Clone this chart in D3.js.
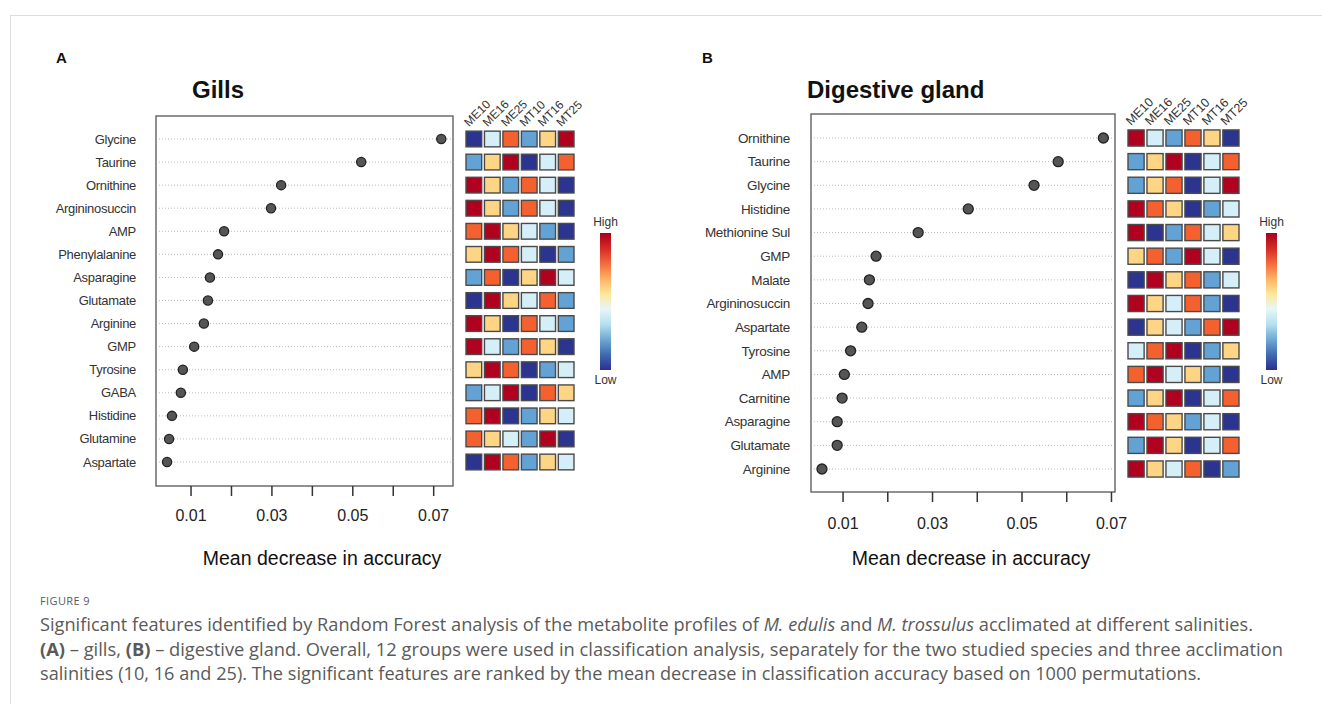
<!DOCTYPE html>
<html>
<head>
<meta charset="utf-8">
<script src="https://cdn.jsdelivr.net/npm/d3@7"></script>
<style>
  body { margin: 0; background: #fff; }
  svg { display: block; }
  .lbl { font-family: "Liberation Sans", Arial, sans-serif; fill: #333; }
</style>
</head>
<body>
<script>
// groups of the heatmap columns
const groups = ["ME10", "ME16", "ME25", "MT10", "MT16", "MT25"];
const xTicks = [0.01, 0.02, 0.03, 0.04, 0.05, 0.06, 0.07];
const xTickLabels = ["0.01", "", "0.03", "", "0.05", "", "0.07"];

// panel A - gills
const gillsFeatures = ["Glycine", "Taurine", "Ornithine", "Argininosuccin", "AMP", "Phenylalanine",
  "Asparagine", "Glutamate", "Arginine", "GMP", "Tyrosine", "GABA", "Histidine", "Glutamine", "Aspartate"];
const gillsMDA = [0.0720, 0.0522, 0.0324, 0.0299, 0.0183, 0.0168, 0.0148, 0.0143, 0.0133,
  0.0109, 0.0081, 0.0076, 0.0054, 0.0047, 0.0042];
// relative level 1 (low) .. 6 (high) for each group
const gillsHeat = [
  [1, 3, 5, 2, 4, 6], [2, 4, 6, 1, 3, 5], [6, 4, 2, 5, 3, 1], [6, 4, 2, 5, 3, 1],
  [5, 6, 4, 3, 2, 1], [4, 6, 5, 3, 1, 2], [2, 5, 1, 4, 6, 3], [1, 6, 4, 3, 5, 2],
  [6, 4, 1, 5, 3, 2], [6, 3, 2, 5, 4, 1], [4, 6, 5, 1, 2, 3], [2, 3, 6, 1, 5, 4],
  [5, 6, 1, 2, 4, 3], [5, 4, 3, 2, 6, 1], [1, 6, 5, 2, 4, 3]
];

// panel B - digestive gland
const dgFeatures = ["Ornithine", "Taurine", "Glycine", "Histidine", "Methionine Sul", "GMP", "Malate",
  "Argininosuccin", "Aspartate", "Tyrosine", "AMP", "Carnitine", "Asparagine", "Glutamate", "Arginine"];
const dgMDA = [0.0683, 0.0582, 0.0528, 0.0381, 0.0269, 0.0175, 0.0160, 0.0157, 0.0143,
  0.0118, 0.0104, 0.0099, 0.0088, 0.0088, 0.0054];
const dgHeat = [
  [6, 3, 2, 5, 4, 1], [2, 4, 6, 1, 3, 5], [2, 4, 5, 1, 3, 6], [6, 5, 4, 1, 2, 3],
  [6, 1, 2, 5, 3, 4], [4, 5, 2, 6, 3, 1], [1, 6, 4, 5, 2, 3], [6, 4, 3, 5, 2, 1],
  [1, 4, 3, 2, 5, 6], [3, 5, 6, 1, 2, 4], [5, 6, 3, 4, 2, 1], [2, 4, 6, 1, 3, 5],
  [6, 5, 4, 2, 3, 1], [2, 6, 4, 1, 3, 5], [6, 4, 3, 5, 1, 2]
];

const levelColor = d3.scaleOrdinal()
  .domain([1, 2, 3, 4, 5, 6])
  .range(["#2b3590", "#62a2d4", "#d5eff9", "#fed584", "#f4612f", "#b0021f"]);

const width = 1322, height = 704;
const svg = d3.select("body").append("svg").attr("width", width).attr("height", height);

// outer figure frame
svg.append("rect").attr("x", 10.5).attr("y", 15.5).attr("width", 1400).attr("height", 800)
  .attr("fill", "none").attr("stroke", "#ddd");

const defs = svg.append("defs");
const grad = defs.append("linearGradient").attr("id", "hl")
  .attr("x1", 0).attr("y1", 1).attr("x2", 0).attr("y2", 0);
["#2b2f8f", "#3f6bb0", "#6fa8d3", "#b5e0ef", "#e6f6f8", "#fee79a", "#fdb162", "#f46a3c", "#d42a26", "#a8001f"]
  .forEach((c, i, a) => grad.append("stop").attr("offset", i / (a.length - 1)).attr("stop-color", c));

function panel(cfg) {
  const g = svg.append("g");
  const x = d3.scaleLinear().domain(cfg.xDomain).range([cfg.left, cfg.right]);
  const y = d3.scalePoint().domain(cfg.features).range(cfg.yRange);

  g.append("text").attr("x", cfg.letterX).attr("y", 63).text(cfg.letter)
    .attr("font-family", "Liberation Sans, Arial, sans-serif").attr("font-weight", "bold")
    .attr("font-size", 15).attr("fill", "#111");
  g.append("text").attr("x", cfg.titleX).attr("y", 98).text(cfg.title)
    .attr("font-family", "Liberation Sans, Arial, sans-serif").attr("font-weight", "bold")
    .attr("font-size", 24).attr("fill", "#111");

  // dotted guide lines
  g.selectAll(".grid").data(cfg.features).enter().append("line")
    .attr("x1", cfg.left + 3).attr("x2", cfg.right - 2)
    .attr("y1", d => y(d)).attr("y2", d => y(d))
    .attr("stroke", "#aaa").attr("stroke-width", 0.8).attr("stroke-dasharray", "1,2");

  g.append("rect").attr("x", cfg.left).attr("y", cfg.top)
    .attr("width", cfg.right - cfg.left).attr("height", cfg.bottom - cfg.top)
    .attr("fill", "none").attr("stroke", "#555").attr("stroke-width", 1.3);

  g.selectAll(".rowlab").data(cfg.features).enter().append("text")
    .attr("class", "lbl").attr("x", cfg.labelX).attr("y", d => y(d)).attr("dy", "0.35em")
    .attr("text-anchor", "end").attr("font-size", cfg.labelSize).attr("letter-spacing", -0.3)
    .text(d => d);

  g.selectAll(".dot").data(cfg.values).enter().append("circle")
    .attr("cx", d => x(d)).attr("cy", (d, i) => y(cfg.features[i]))
    .attr("r", cfg.r).attr("fill", "#555").attr("stroke", "#222").attr("stroke-width", 1.3);

  const xAxis = d3.axisBottom(x).tickValues(xTicks).tickSize(10).tickPadding(cfg.tickPad)
    .tickFormat((d, i) => xTickLabels[i]);
  const ax = g.append("g").attr("transform", "translate(0," + cfg.bottom + ")").call(xAxis);
  ax.select(".domain").remove();
  ax.selectAll("line").attr("stroke", "#333").attr("stroke-width", 1.5);
  ax.selectAll("text").attr("font-family", "Liberation Sans, Arial, sans-serif")
    .attr("font-size", 16).attr("fill", "#222");

  g.append("text").attr("x", cfg.axTitleX).attr("y", 565)
    .attr("text-anchor", "middle").attr("font-family", "Liberation Sans, Arial, sans-serif")
    .attr("font-size", 19.5).attr("fill", "#111").text("Mean decrease in accuracy");

  // heatmap
  const hx = d3.scaleBand().domain(groups).range(cfg.heatX).paddingInner(0.15);
  const cell = hx.bandwidth();
  cfg.heat.forEach((row, i) => {
    g.selectAll(".c" + i).data(row).enter().append("rect")
      .attr("x", (d, j) => hx(groups[j])).attr("y", y(cfg.features[i]) - cell / 2)
      .attr("width", cell).attr("height", cell)
      .attr("fill", d => levelColor(d)).attr("stroke", "#4a4a4a").attr("stroke-width", 1.4);
  });
  const top = y(cfg.features[0]) - cell / 2 - 4;
  g.selectAll(".collab").data(groups).enter().append("text")
    .attr("class", "lbl")
    .attr("transform", d => "translate(" + (hx(d) + 3) + "," + top + ") rotate(-45)")
    .attr("font-size", cfg.colSize).attr("fill", "#222").text(d => d);

  // colour key
  g.append("rect").attr("x", cfg.keyX).attr("y", 233).attr("width", 11).attr("height", 137)
    .attr("fill", "url(#hl)");
  g.append("text").attr("class", "lbl").attr("x", cfg.keyX + 5.5).attr("y", 226)
    .attr("text-anchor", "middle").attr("font-size", 12).text("High");
  g.append("text").attr("class", "lbl").attr("x", cfg.keyX + 5.5).attr("y", 384)
    .attr("text-anchor", "middle").attr("font-size", 12).text("Low");
}

panel({
  letter: "A", letterX: 56, title: "Gills", titleX: 192,
  features: gillsFeatures, values: gillsMDA, heat: gillsHeat,
  left: 156, right: 453, top: 116, bottom: 486,
  xDomain: [0.00146, 0.0749], yRange: [139, 462],
  labelX: 136, labelSize: 13, r: 4.6, tickPad: 14, axTitleX: 322,
  heatX: [466, 574], colSize: 12, keyX: 600
});

panel({
  letter: "B", letterX: 702, title: "Digestive gland", titleX: 807,
  features: dgFeatures, values: dgMDA, heat: dgHeat,
  left: 811, right: 1115, top: 114, bottom: 492,
  xDomain: [0.00295, 0.0709], yRange: [138, 469],
  labelX: 790, labelSize: 13.5, r: 5, tickPad: 16, axTitleX: 971,
  heatX: [1128, 1239], colSize: 12.5, keyX: 1266
});

// caption
const cap = svg.append("g").attr("font-family", "Open Sans, sans-serif").attr("fill", "#5a5a5a");
cap.append("text").attr("x", 40).attr("y", 605).attr("font-size", 11).attr("letter-spacing", 0.4)
  .text("FIGURE 9");
const capLines = [
  [["Significant features identified by Random Forest analysis of the metabolite profiles of ", ""],
   ["M. edulis", "i"], [" and ", ""], ["M. trossulus", "i"], [" acclimated at different salinities.", ""]],
  [["(A)", "b"], [" \u2013 gills, ", ""], ["(B)", "b"],
   [" \u2013 digestive gland. Overall, 12 groups were used in classification analysis, separately for the two studied species and three acclimation", ""]],
  [["salinities (10, 16 and 25). The significant features are ranked by the mean decrease in classification accuracy based on 1000 permutations.", ""]]
];
const capWidths = [1214, 1244, 1162];
capLines.forEach((parts, i) => {
  const t = cap.append("text").attr("x", 40).attr("y", 631 + i * 24.5).attr("font-size", 16);
  parts.forEach(p => {
    t.append("tspan").text(p[0])
      .attr("font-style", p[1] === "i" ? "italic" : null)
      .attr("font-weight", p[1] === "b" ? "bold" : null);
  });
  const w = t.node().getComputedTextLength();
  t.attr("font-size", 16 * capWidths[i] / w);
});
</script>
</body>
</html>
